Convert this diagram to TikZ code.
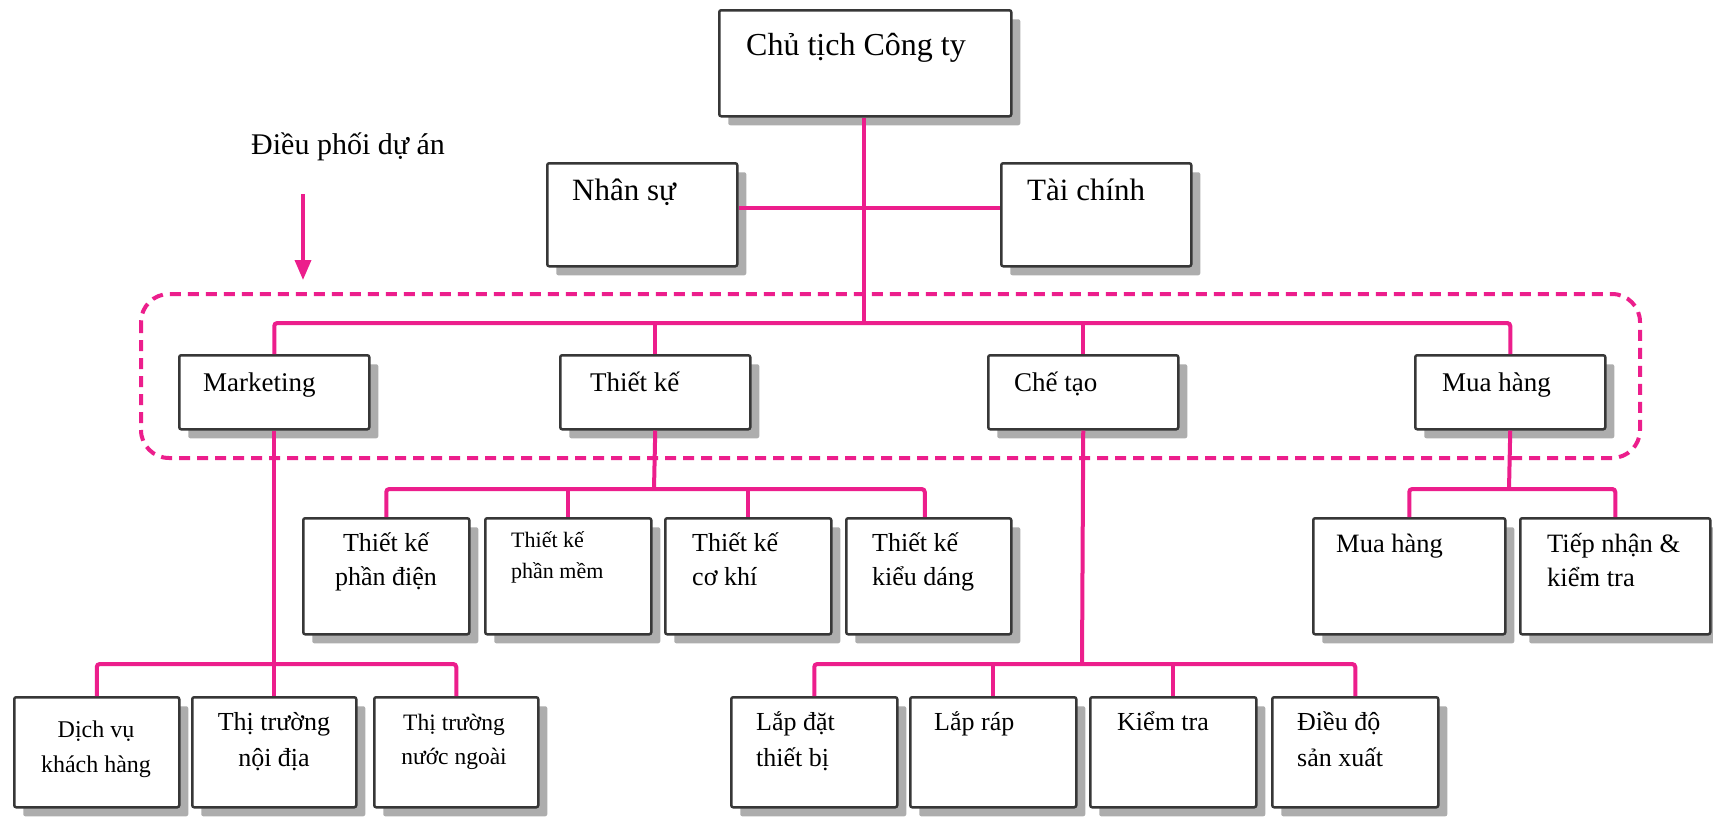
\documentclass[tikz,border=0pt]{standalone}
\usepackage{fontspec}
\setmainfont{Liberation Serif}
\usetikzlibrary{shadows,arrows.meta,calc}
\definecolor{pk}{RGB}{236,30,140}
\definecolor{bd}{RGB}{55,55,55}
\newcommand\mytab[2]{\begin{tabular}[t]{@{}#1@{}}#2\end{tabular}}
\begin{document}
\begin{tikzpicture}[x=1pt,y=-1pt,
  box/.style={draw=bd, line width=2.5pt, fill=white, rounded corners=2pt, anchor=north west, inner sep=0pt,
    drop shadow={shadow xshift=9pt, shadow yshift=-9pt, fill=black!32, opacity=1}},
  conn/.style={draw=pk, line width=4pt, rounded corners=3pt},
  txt/.style={inner sep=0pt, anchor=base west},
  ctxt/.style={inner sep=0pt, anchor=base},
  fA/.style={font=\fontsize{32}{38}\selectfont},
  fB/.style={font=\fontsize{31}{37}\selectfont},
  fC/.style={font=\fontsize{30}{36}\selectfont},
  fD/.style={font=\fontsize{27}{33}\selectfont},
  fE/.style={font=\fontsize{26}{34}\selectfont},
  fF/.style={font=\fontsize{22}{31}\selectfont},
  fG/.style={font=\fontsize{24}{35}\selectfont},
  fH/.style={font=\fontsize{26}{36}\selectfont},
  fP/.style={font=\fontsize{26.5}{34}\selectfont},
]
\useasboundingbox[fill=white] (0,0) rectangle (1713,822);

% boxes
\node[box, minimum width=292pt, minimum height=106pt] (ceo) at (718,9) {};
\node[box, minimum width=190pt, minimum height=103pt] (hr) at (546,162) {};
\node[box, minimum width=190pt, minimum height=103pt] (fin) at (1000,162) {};

\node[box, minimum width=190pt, minimum height=74pt] (mkt) at (178,354) {};
\node[box, minimum width=190pt, minimum height=74pt] (des) at (559,354) {};
\node[box, minimum width=190pt, minimum height=74pt] (man) at (987,354) {};
\node[box, minimum width=190pt, minimum height=74pt] (pur) at (1414,354) {};

\node[box, minimum width=166pt, minimum height=116pt] (d1) at (302,517) {};
\node[box, minimum width=166pt, minimum height=116pt] (d2) at (484,517) {};
\node[box, minimum width=166pt, minimum height=116pt] (d3) at (664,517) {};
\node[box, minimum width=165pt, minimum height=116pt] (d4) at (845,517) {};

\node[box, minimum width=192pt, minimum height=116pt] (p1) at (1312,517) {};
\node[box, minimum width=190pt, minimum height=116pt] (p2) at (1519,517) {};

\node[box, minimum width=165pt, minimum height=110pt] (m1) at (13,696) {};
\node[box, minimum width=164pt, minimum height=110pt] (m2) at (191,696) {};
\node[box, minimum width=164pt, minimum height=110pt] (m3) at (373,696) {};

\node[box, minimum width=166pt, minimum height=110pt] (f1) at (730,696) {};
\node[box, minimum width=166pt, minimum height=110pt] (f2) at (909,696) {};
\node[box, minimum width=166pt, minimum height=110pt] (f3) at (1089,696) {};
\node[box, minimum width=166pt, minimum height=110pt] (f4) at (1271,696) {};

% bus coordinates
\coordinate (busA) at (864,323);
\coordinate (busHR) at (864,208);
\coordinate (busD) at (654,489);
\coordinate (busP) at (1509,489);
\coordinate (busM) at (273,664);
\coordinate (busF) at (1082,664);
\coordinate (arrS) at (303,194);
\coordinate (arrE) at (303,280);

% dashed group frame
\draw[pk, line width=4pt, dash pattern=on 11pt off 7pt, rounded corners=28pt] (141,294) rectangle (1640,458);

% connectors
\draw[conn] (ceo.south -| busA) -- (busA);
\draw[conn] (hr.east |- busHR) -- (fin.west |- busHR);
\draw[conn] (mkt.north) -- (mkt.north |- busA) -- (pur.north |- busA) -- (pur.north);
\draw[conn] (des.north) -- (des.north |- busA);
\draw[conn] (man.north) -- (man.north |- busA);

\draw[conn] (des.south) -- (busD);
\draw[conn] (d1.north) -- (d1.north |- busD) -- ($(d4.north |- busD)+(-4,0)$) -- ($(d4.north)+(-4,0)$);
\draw[conn] (d2.north) -- (d2.north |- busD);
\draw[conn] (d3.north) -- (d3.north |- busD);

\draw[conn] (pur.south) -- (busP);
\draw[conn] (p1.north) -- (p1.north |- busP) -- (p2.north |- busP) -- (p2.north);

\draw[conn] (mkt.south) -- (m2.north -| mkt.south);
\draw[conn] (m1.north) -- (m1.north |- busM) -- (m3.north |- busM) -- (m3.north);

\draw[conn] (man.south) -- (busF);
\draw[conn] (f1.north) -- (f1.north |- busF) -- (f4.north |- busF) -- (f4.north);
\draw[conn] (f2.north) -- (f2.north |- busF);
\draw[conn] (f3.north) -- (f3.north |- busF);

\draw[pk, line width=3.5pt, -{Triangle[width=16pt,length=20pt]}] (arrS) -- (arrE);

% texts
\node[txt, fA] (ceo-t) at (746,55) {Chủ tịch Công ty};
\node[txt, fB] (hr-t) at (572,200) {Nhân sự};
\node[txt, fB] (fin-t) at (1027,200) {Tài chính};
\node[txt, fC] (lbl) at (251,154) {Điều phối dự án};

\node[txt, fD] (mkt-t) at (203,391) {Marketing};
\node[txt, fD] (des-t) at (590,391) {Thiết kế};
\node[txt, fD] (man-t) at (1014,391) {Chế tạo};
\node[txt, fD] (pur-t) at (1442,391) {Mua hàng};

\node[ctxt, fE] (d1-t) at (386,551) {\mytab{c}{Thiết kế\\phần điện}};
\node[txt, fF] (d2-t) at (511,547) {\mytab{l}{Thiết kế\\phần mềm}};
\node[txt, fE] (d3-t) at (692,551) {\mytab{l}{Thiết kế\\cơ khí}};
\node[txt, fE] (d4-t) at (872,551) {\mytab{l}{Thiết kế\\kiểu dáng}};

\node[txt, fP] (p1-t) at (1336,552) {Mua hàng};
\node[txt, fP] (p2-t) at (1547,552) {\mytab{l}{Tiếp nhận \&\\kiểm tra}};

\node[ctxt, fG] (m1-t) at (96,737) {\mytab{c}{Dịch vụ\\khách hàng}};
\node[ctxt, fH] (m2-t) at (274,730) {\mytab{c}{Thị trường\\nội địa}};
\node[ctxt, font=\fontsize{23.5}{34}\selectfont] (m3-t) at (454,730) {\mytab{c}{Thị trường\\nước ngoài}};

\node[txt, fH] (f1-t) at (756,730) {\mytab{l}{Lắp đặt\\thiết bị}};
\node[txt, fH] (f2-t) at (934,730) {Lắp ráp};
\node[txt, fH] (f3-t) at (1117,730) {Kiểm tra};
\node[txt, fH] (f4-t) at (1297,730) {\mytab{l}{Điều độ\\sản xuất}};
\end{tikzpicture}
\end{document}
